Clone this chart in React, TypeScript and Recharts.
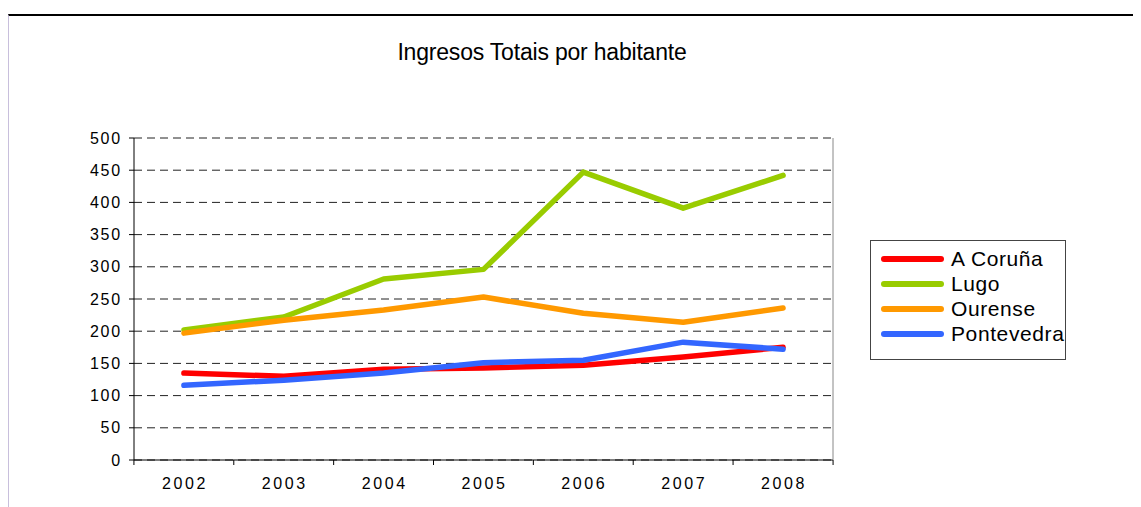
import React from 'react';
import { LineChart, Line, XAxis, YAxis, CartesianGrid } from 'recharts';

const years = ['2002', '2003', '2004', '2005', '2006', '2007', '2008'];
const coruna = [135, 130, 141, 143, 147, 160, 175];
const lugo = [202, 222, 281, 296, 447, 391, 442];
const ourense = [197, 217, 233, 253, 228, 214, 236];
const pontevedra = [116, 124, 135, 151, 155, 183, 172];
const yTicks = [0, 50, 100, 150, 200, 250, 300, 350, 400, 450, 500];

const series = [
  { key: 'coruna', name: 'A Coruña', color: '#ff0000' },
  { key: 'lugo', name: 'Lugo', color: '#99cc00' },
  { key: 'ourense', name: 'Ourense', color: '#ff9900' },
  { key: 'pontevedra', name: 'Pontevedra', color: '#3366ff' },
];

const data = years.map((year, i) => ({
  year,
  coruna: coruna[i],
  lugo: lugo[i],
  ourense: ourense[i],
  pontevedra: pontevedra[i],
}));

const FONT = '"Liberation Sans", Arial, sans-serif';
const HALF_BAND = 50;

const YearTick = (props: any) => {
  const { x, y, payload, index } = props;
  const last = index === years.length - 1;
  return (
    <g>
      <line x1={x - HALF_BAND} x2={x - HALF_BAND} y1={y} y2={y + 5} stroke="#000" />
      {last && <line x1={x + HALF_BAND} x2={x + HALF_BAND} y1={y} y2={y + 5} stroke="#000" />}
      <text x={x + 1} y={y + 29} textAnchor="middle" fontSize={16} fill="#000" fontFamily={FONT} letterSpacing={2.6}>
        {payload.value}
      </text>
    </g>
  );
};

const ValueTick = (props: any) => {
  const { x, y, payload } = props;
  return (
    <text x={x} y={y + 5.5} textAnchor="end" fontSize={16} fill="#000" fontFamily={FONT} letterSpacing={1.8}>
      {payload.value}
    </text>
  );
};

const LegendBox = () => (
  <div
    style={{
      position: 'absolute',
      left: 862,
      top: 232,
      border: '1px solid #444',
      width: 196,
      height: 120,
      boxSizing: 'border-box',
      padding: '5px 0 0 10px',
      fontFamily: FONT,
      background: '#fff',
    }}
  >
    {series.map((s) => (
      <div key={s.key} style={{ display: 'flex', alignItems: 'center', height: 25 }}>
        <div style={{ width: 63, height: 6, borderRadius: 3, background: s.color, marginRight: 7 }} />
        <span style={{ fontSize: 21, color: '#000', lineHeight: '25px', letterSpacing: 0.6, whiteSpace: 'nowrap' }}>
          {s.name}
        </span>
      </div>
    ))}
  </div>
);

export default function App() {
  return (
    <div style={{ position: 'relative', width: 1133, height: 499, background: '#fff' }}>
      <div
        style={{
          position: 'absolute',
          left: 0,
          top: 6,
          width: 1133,
          height: 493,
          borderTop: '2px solid #000',
          borderLeft: '1px solid #c8bfdc',
          boxSizing: 'border-box',
        }}
      />
      <svg style={{ position: 'absolute', left: 0, top: 0 }} width={1133} height={80}>
        <text x={534} y={52} textAnchor="middle" fontSize={23} fontFamily={FONT} fill="#000" letterSpacing={-0.2}>
          Ingresos Totais por habitante
        </text>
      </svg>
      <div style={{ position: 'absolute', left: 0, top: 0 }}>
        <LineChart width={1133} height={499} data={data} margin={{ top: 130, right: 307, bottom: 0, left: 0 }}>
          <CartesianGrid vertical={false} stroke="#222" strokeDasharray="8 5" />
          <XAxis
            dataKey="year"
            scale="band"
            height={47}
            interval={0}
            tickSize={0}
            tickMargin={0}
            tick={<YearTick />}
            axisLine={{ stroke: '#000' }}
            tickLine={false}
          />
          <YAxis
            domain={[0, 500]}
            ticks={yTicks}
            interval={0}
            width={126}
            tickSize={5}
            tickMargin={7}
            axisLine={{ stroke: '#000' }}
            tickLine={{ stroke: '#000' }}
            tick={<ValueTick />}
          />
          <YAxis
            yAxisId="r"
            orientation="right"
            domain={[0, 500]}
            ticks={yTicks}
            width={1}
            tick={false}
            tickLine={false}
            axisLine={{ stroke: '#888' }}
          />
          {series.map((s) => (
            <Line
              key={s.key}
              dataKey={s.key}
              name={s.name}
              stroke={s.color}
              strokeWidth={5.5}
              strokeLinecap="round"
              strokeLinejoin="round"
              dot={false}
              activeDot={false}
              isAnimationActive={false}
            />
          ))}
        </LineChart>
      </div>
      <LegendBox />
    </div>
  );
}
